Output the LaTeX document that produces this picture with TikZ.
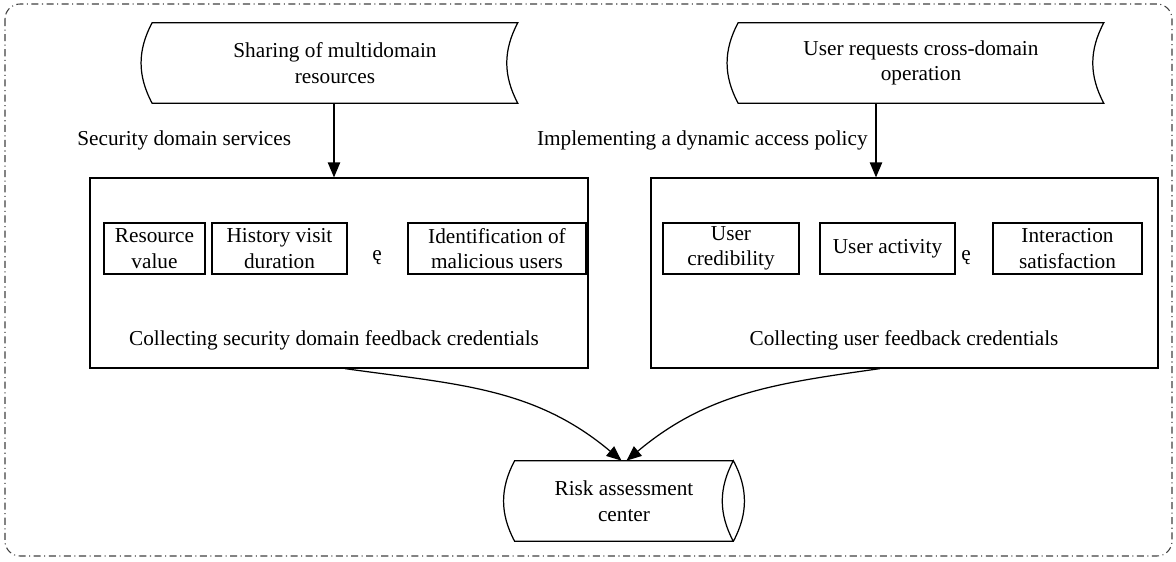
\documentclass[tikz,border=0pt]{standalone}
\usepackage{fontspec}
\setmainfont{Liberation Serif}
\usepackage{tikz}
\usetikzlibrary{arrows.meta,positioning}

\begin{document}
\begin{tikzpicture}[
  txt/.style={font=\fontsize{12.1}{14.5}\selectfont, inner sep=0pt},
  store/.style={txt, align=center, minimum width=7.3cm, minimum height=1.6cm},
  item/.style={txt, draw, line width=0.6pt, align=center, minimum height=1.02cm},
  group/.style={draw, line width=0.7pt, minimum height=3.8cm},
  line/.style={line width=0.7pt},
  arr/.style={line width=0.7pt, -{Triangle[length=8.5pt,width=7pt]}}
]
\useasboundingbox (0,0) rectangle (23.52,-11.22);
\draw[black!75, line width=0.6pt, rounded corners=0.3cm,
      dash pattern=on 4pt off 2pt on 0.6pt off 2pt] (0.1,-0.08) rectangle (23.44,-11.12);

% sources
\node[store] (share) at (6.7,-1.26) {Sharing of multidomain\\resources};
\node[store] (req)   at (18.42,-1.26) {User requests cross-domain\\operation};
\draw[line] (share.north west) to[bend right=28] (share.south west) -- (share.south east)
  to[bend left=28] (share.north east) -- cycle;
\draw[line] (req.north west) to[bend right=28] (req.south west) -- (req.south east)
  to[bend left=28] (req.north east) -- cycle;

\node[txt, anchor=west] (secsvc) at (1.54,-2.8) {Security domain services};
\node[txt, anchor=east] (policy) at (17.36,-2.8) {Implementing a dynamic access policy};

% feedback groups
\node[group, minimum width=9.96cm]  (secbox) at (6.78,-5.46) {};
\node[group, minimum width=10.14cm] (usrbox) at (18.09,-5.46) {};

\node[item, minimum width=2.02cm] (resv)  at (3.09,-4.97) {Resource\\value};
\node[item, minimum width=2.7cm]  (hist)  at (5.59,-4.97) {History visit\\duration};
\node[txt]                        (dots1) at (7.54,-5.15) {ę};
\node[item, minimum width=3.56cm] (ident) at (9.94,-4.97) {Identification of\\malicious users};
\node[txt, anchor=north] (seclbl) at (6.68,-6.6) {Collecting security domain feedback credentials};

\node[item, minimum width=2.72cm] (cred)  at (14.62,-4.97) {User\\credibility};
\node[item, minimum width=2.7cm]  (act)   at (17.75,-4.97) {User activity};
\node[txt]                        (dots2) at (19.32,-5.15) {ę};
\node[item, minimum width=2.98cm] (inter) at (21.35,-4.97) {Interaction\\satisfaction};
\node[txt, anchor=north] (usrlbl) at (18.08,-6.6) {Collecting user feedback credentials};

% risk center
\node[store, minimum width=4.36cm] (risk) at (12.48,-10.02) {Risk assessment\\center};
\draw[line] (risk.north east) -- (risk.north west) to[bend right=28] (risk.south west)
  -- (risk.south east) to[bend right=28] (risk.north east) to[bend right=28] (risk.south east);

% connectors
\draw[arr] ([xshift=-0.02cm]share.south) -- ([xshift=-0.02cm]share.south |- secbox.north);
\draw[arr] ([xshift=-0.9cm]req.south) -- ([xshift=-0.9cm]req.south |- usrbox.north);
\draw[arr] ([xshift=0.12cm]secbox.south) to[out=-8, in=140] ([xshift=-0.05cm]risk.north);
\draw[arr] ([xshift=-0.49cm]usrbox.south) to[out=188, in=40] ([xshift=0.05cm]risk.north);
\end{tikzpicture}
\end{document}
